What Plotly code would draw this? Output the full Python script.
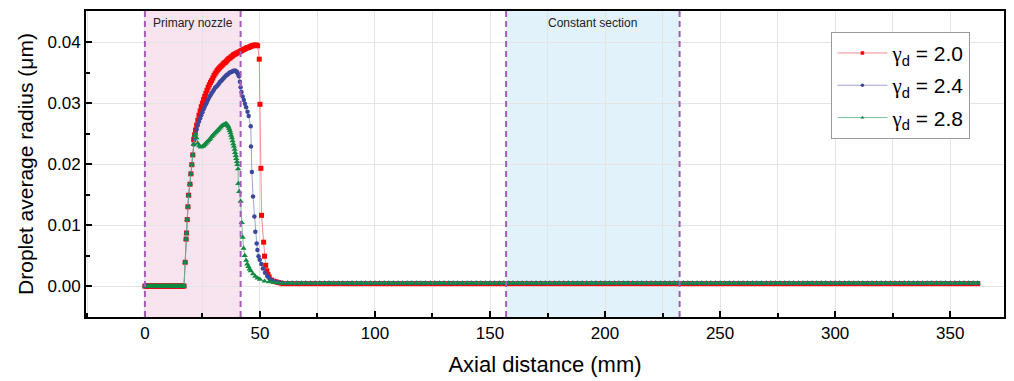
import plotly.graph_objects as go

# ---------------- data ----------------
# flat part before the droplets appear (all series ~0)
flat_x = [i * 0.5 for i in range(35)]          # 0 .. 17 mm
flat_y = [0.0] * len(flat_x)

# common early rise (all three series overlap here)
rise_x = [17.5, 17.9, 18.1, 18.4, 18.7, 19.0, 19.6, 20.0, 20.4, 20.8]
rise_y = [0.0039, 0.0077, 0.0087, 0.0109, 0.0130, 0.0149, 0.0167, 0.0184, 0.0199, 0.0215]

# far-field tail (flat, tiny radius)
tail_x = list(range(60, 363, 2))
red_tail_val = 0.00040
blue_tail_val = 0.00050
green_tail_val = 0.00050

# gamma_d = 2.0
red_x = [21.2, 21.6, 22.0, 22.5, 23.0, 23.5, 24.0, 24.5, 25.0, 25.5, 26.0, 26.5, 27.0, 27.5,
         28.0, 28.5, 29.0, 29.5, 30.0, 30.5, 31.0, 31.5, 32.0, 32.5, 33.0, 33.5, 34.0, 34.5,
         35.0, 35.5, 36.0, 36.5, 37.0, 37.5, 38.0, 38.5, 39.0, 39.5, 40.0, 40.5, 41.0, 41.5,
         42.0, 42.5, 43.0, 43.5, 44.0, 44.5, 45.0, 45.5, 46.0, 46.5, 47.0, 47.5, 48.0, 48.5,
         49.0, 49.7, 50.0, 50.4, 50.7, 51.6, 52.0, 52.5, 53.0, 53.5, 54.0,
         55.0, 56.0, 57.0, 58.0, 59.0]
red_y = [0.0240, 0.0248, 0.0256, 0.0264, 0.0272, 0.0280, 0.0287, 0.0294, 0.0300, 0.0306,
         0.0311, 0.0316, 0.0321, 0.0326, 0.0330, 0.0334, 0.0337, 0.0341, 0.0345, 0.0348,
         0.0351, 0.0354, 0.0356, 0.0358, 0.0360, 0.0362, 0.0364, 0.0366, 0.0367, 0.0369,
         0.0371, 0.0373, 0.0374, 0.0376, 0.0377, 0.0379, 0.0380, 0.0381, 0.0382, 0.0383,
         0.0384, 0.0385, 0.0386, 0.0387, 0.0388, 0.0389, 0.0390, 0.0391, 0.0391, 0.0392,
         0.0393, 0.0394, 0.0394, 0.0395, 0.0395, 0.0395, 0.0394, 0.0372,
         0.0298, 0.0193, 0.0116, 0.0072, 0.0049, 0.0034, 0.0025, 0.0019, 0.0015, 0.0010,
         0.0008, 0.0007, 0.0006, 0.0005]

# gamma_d = 2.4
blue_x = [21.2, 21.6, 22.0, 22.5, 23.0, 23.5, 24.0, 24.5, 25.0, 25.5, 26.0, 26.5, 27.0, 27.5,
          28.0, 28.5, 29.0, 29.5, 30.0, 30.5, 31.0, 31.5, 32.0, 32.5, 33.0, 33.5, 34.0, 34.5,
          35.0, 35.5, 36.0, 36.5, 37.0, 37.5, 38.0, 38.5, 39.0, 39.4, 39.7, 40.0, 40.3, 40.6,
          40.9, 41.3, 41.6, 42.0, 42.5, 43.0, 43.5, 44.0, 44.6, 45.1, 46.0, 46.1, 46.5, 47.0,
          47.6, 48.0, 48.6, 48.9, 49.4, 49.9, 50.6, 51.3, 52.2, 53.2, 54.3, 55.5, 57.0, 58.5]
blue_y = [0.0232, 0.0241, 0.0250, 0.0257, 0.0264, 0.0270, 0.0275, 0.0280, 0.0285, 0.0290,
          0.0294, 0.0298, 0.0302, 0.0306, 0.0310, 0.0313, 0.0316, 0.0319, 0.0322, 0.0325,
          0.0327, 0.0329, 0.0331, 0.0334, 0.0336, 0.0338, 0.0340, 0.0342, 0.0344, 0.0346,
          0.0347, 0.0349, 0.0350, 0.0351, 0.0352, 0.0353, 0.0353, 0.0353, 0.0352, 0.0351,
          0.0349, 0.0347, 0.0344, 0.0335, 0.0326, 0.0318, 0.0311, 0.0305, 0.0299, 0.0293,
          0.0286, 0.0279, 0.0262, 0.0229, 0.0187, 0.0147, 0.0114, 0.0089, 0.0070, 0.0059,
          0.0049, 0.0043, 0.0036, 0.0029, 0.0022, 0.0016, 0.0012, 0.0009, 0.0007, 0.0006]

# gamma_d = 2.8
green_x = [21.2, 21.6, 22.0, 22.4, 23.0, 23.6, 24.3, 25.0, 25.5, 26.0, 26.5, 27.0, 27.5, 28.0,
           28.5, 29.0, 29.5, 30.0, 30.5, 31.0, 31.5, 32.0, 32.5, 33.0, 33.5, 34.0, 34.5, 35.0,
           35.4, 35.7, 36.0, 36.3, 36.6, 36.9, 37.2, 37.5, 37.8, 38.1, 38.4, 38.7, 39.0, 39.2,
           39.5, 39.7, 40.0, 40.2, 40.5, 40.6, 41.0, 41.6, 42.1, 42.5, 42.9, 43.4, 44.0, 44.5,
           45.0, 45.5, 46.0, 47.0, 48.0, 49.0, 50.0, 52.0, 54.0, 56.0, 58.0]
green_y = [0.0232, 0.0247, 0.0249, 0.0243, 0.0234, 0.0230, 0.0228, 0.0229, 0.0230, 0.0232,
           0.0234, 0.0236, 0.0238, 0.0240, 0.0242, 0.0245, 0.0247, 0.0249, 0.0251, 0.0253,
           0.0255, 0.0257, 0.0259, 0.0261, 0.0263, 0.0264, 0.0265, 0.0266, 0.0266, 0.0265,
           0.0263, 0.0261, 0.0258, 0.0255, 0.0251, 0.0247, 0.0243, 0.0238, 0.0233, 0.0229,
           0.0224, 0.0219, 0.0214, 0.0209, 0.0204, 0.0199, 0.0192, 0.0168, 0.0155, 0.0139,
           0.0104, 0.0080, 0.0062, 0.0050, 0.0042, 0.0036, 0.0032, 0.0028, 0.0025, 0.0020,
           0.0016, 0.0013, 0.0011, 0.0008, 0.0007, 0.0006, 0.0005]

gamma_values = ["2.0", "2.4", "2.8"]

regions = [(0.0, 41.6, "Primary nozzle", "#f7e4ee"), (157.0, 232.4, "Constant section", "#e1f2fa")]

x_ticks = [0, 50, 100, 150, 200, 250, 300, 350]
y_ticks = [0.00, 0.01, 0.02, 0.03, 0.04]

# ---------------- figure ----------------
fig = go.Figure()

def full(xs, ys, tail_val):
    X = flat_x + rise_x + xs + tail_x
    Y = flat_y + rise_y + ys + [tail_val] * len(tail_x)
    return X, Y

styles = [
    ("#ff0000", "rgba(240,110,110,0.8)", "square", 5),
    ("#3c479c", "rgba(130,140,200,0.8)", "circle", 4.5),
    ("#108a40", "rgba(90,180,130,0.8)", "triangle-up", 5.5),
]
data = [(red_x, red_y, red_tail_val), (blue_x, blue_y, blue_tail_val), (green_x, green_y, green_tail_val)]

for (xs, ys, tv), g, (mc, lc, sym, sz) in zip(data, gamma_values, styles):
    X, Y = full(xs, ys, tv)
    fig.add_trace(go.Scatter(
        x=X, y=Y, mode="lines+markers", showlegend=False,
        line=dict(color=lc, width=1),
        marker=dict(color=mc, symbol=sym, size=sz, line=dict(width=0)),
    ))

# legend entries (small markers, as in the reference legend)
for g, (mc, lc, sym, sz) in zip(gamma_values, styles):
    fig.add_trace(go.Scatter(
        x=[None], y=[None], mode="lines+markers", legendgroup=g,
        name="<span style=\"font-family:'Liberation Serif'\">γ</span><sub>d</sub> = " + g,
        line=dict(color=lc, width=1),
        marker=dict(color=mc, symbol=sym, size=3.5, line=dict(width=0)),
    ))

for x0, x1, label, col in regions:
    fig.add_shape(type="rect", xref="x", yref="paper", x0=x0, x1=x1, y0=0, y1=1,
                  fillcolor=col, line=dict(width=0), layer="below")
    for xv in (x0, x1):
        fig.add_shape(type="line", xref="x", yref="paper", x0=xv, x1=xv, y0=0, y1=1,
                      line=dict(color="#a55cb5", width=2, dash="6px,4px"), layer="above")
    fig.add_annotation(x=(x0 + x1) / 2, y=1, xref="x", yref="paper", yanchor="top", yshift=-3,
                       text=label, showarrow=False, font=dict(size=12, color="#222"))

fig.update_layout(
    width=1014, height=381,
    margin=dict(l=86, r=8, t=11, b=63),
    paper_bgcolor="white", plot_bgcolor="white",
    font=dict(family="Liberation Sans, Arial, sans-serif", color="black"),
    showlegend=True,
    legend=dict(x=0.812, y=0.932, xanchor="left", yanchor="top",
                bgcolor="white", bordercolor="#999", borderwidth=1,
                font=dict(size=21), tracegroupgap=2, itemwidth=50),
)

fig.update_xaxes(
    range=[-25.6, 373.4], tickvals=x_ticks, ticktext=[str(v) for v in x_ticks],
    showline=True, linecolor="black", linewidth=2, mirror=True,
    ticks="inside", ticklen=6, tickwidth=1.5, tickcolor="black",
    showgrid=True, gridcolor="#e4e4e4", gridwidth=1,
    minor=dict(dtick=25, tick0=25, ticks="inside", ticklen=4, tickcolor="black", showgrid=True, gridcolor="#e4e4e4"),
    tickfont=dict(size=17), zeroline=False,
    title=dict(text="Axial distance (mm)", font=dict(size=22), standoff=14),
)
fig.update_yaxes(
    range=[-0.00507, 0.0451], tickvals=y_ticks, ticktext=["%.2f" % v for v in y_ticks],
    showline=True, linecolor="black", linewidth=2, mirror=True,
    ticks="inside", ticklen=6, tickwidth=1.5, tickcolor="black",
    showgrid=True, gridcolor="#e4e4e4", gridwidth=1,
    minor=dict(dtick=0.005, tick0=0.005, ticks="inside", ticklen=4, tickcolor="black", showgrid=False),
    tickfont=dict(size=17), zeroline=False,
    title=dict(text="Droplet average radius (μm)", font=dict(size=21), standoff=8),
)

fig.write_html("out.html")
